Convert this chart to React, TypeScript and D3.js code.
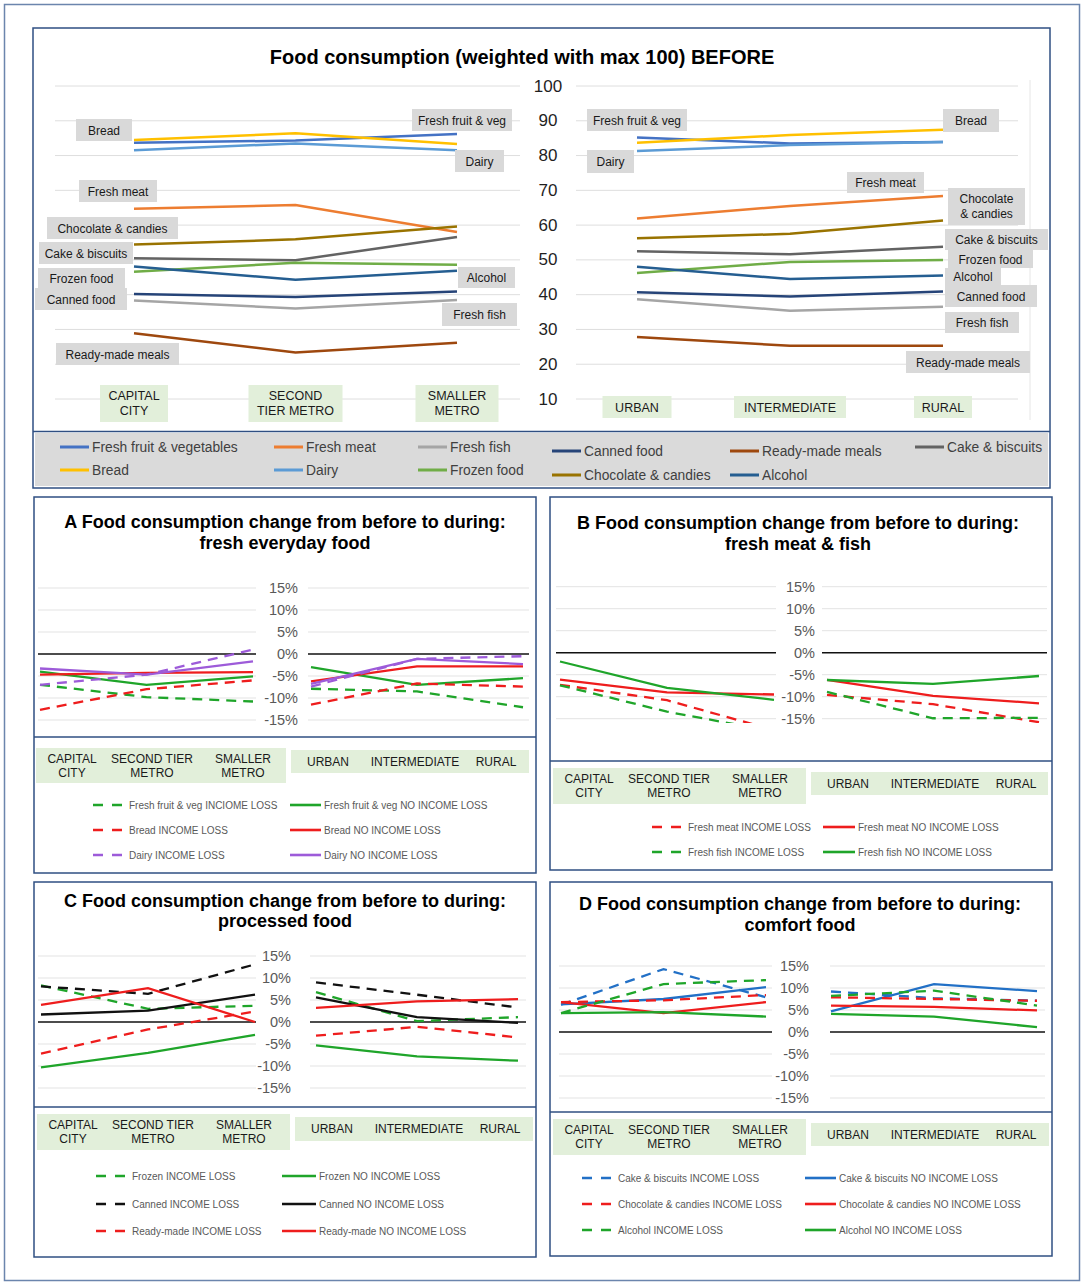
import React, { useEffect, useRef } from "react";
import * as d3 from "d3";

const FONT = "'Liberation Sans', Arial, sans-serif";

// ---- top chart data (weighted with max 100) ----
const metroCats = ["CAPITAL CITY", "SECOND TIER METRO", "SMALLER METRO"];
const areaCats = ["URBAN", "INTERMEDIATE", "RURAL"];
const topMetroLabels = [["CAPITAL", "CITY"], ["SECOND", "TIER METRO"], ["SMALLER", "METRO"]];
const panelMetroLabels = [["CAPITAL", "CITY"], ["SECOND TIER", "METRO"], ["SMALLER", "METRO"]];
const yTicksTop = [100, 90, 80, 70, 60, 50, 40, 30, 20, 10];

const foodSeries = [
  "Fresh fruit & vegetables", "Fresh meat", "Fresh fish", "Canned food", "Ready-made meals", "Cake & biscuits",
  "Bread", "Dairy", "Frozen food", "Chocolate & candies", "Alcohol",
];
const metroBefore = [
  [83.7, 84.3, 86.2],
  [64.7, 65.8, 58.0],
  [38.3, 36.0, 38.5],
  [40.2, 39.3, 40.9],
  [28.9, 23.4, 26.2],
  [50.5, 49.9, 56.6],
  [84.5, 86.4, 83.3],
  [81.5, 83.5, 81.5],
  [46.6, 49.2, 48.6],
  [54.4, 55.9, 59.6],
  [48.1, 44.3, 46.9],
];
const areaBefore = [
  [85.2, 83.5, 83.9],
  [61.9, 65.5, 68.4],
  [38.7, 35.4, 36.5],
  [40.7, 39.5, 40.9],
  [27.8, 25.3, 25.3],
  [52.5, 51.6, 53.8],
  [83.7, 85.9, 87.4],
  [81.3, 83.0, 83.9],
  [46.2, 49.4, 50.0],
  [56.2, 57.5, 61.3],
  [48.0, 44.5, 45.5],
];
const foodColors = [
  "#4472C4", "#ED7D31", "#A5A5A5", "#264478", "#9E480E", "#636363",
  "#FFC000", "#5B9BD5", "#70AD47", "#997300", "#255E91",
];

// ---- change panels (percent) ----
const yTicksPct = [15, 10, 5, 0, -5, -10, -15];

const seriesA = [
  "Fresh fruit & veg INCIOME LOSS", "Fresh fruit & veg NO INCOME LOSS",
  "Bread INCOME LOSS", "Bread NO INCOME LOSS",
  "Dairy INCOME LOSS", "Dairy NO INCOME LOSS",
];
const metroA = [
  [-7.0, -9.8, -10.8],
  [-4.0, -7.0, -5.1],
  [-12.7, -8.0, -6.0],
  [-4.7, -4.3, -4.1],
  [-7.0, -4.7, 1.0],
  [-3.3, -4.7, -1.7],
];
const areaA = [
  [-7.9, -8.5, -12.1],
  [-3.0, -7.0, -5.5],
  [-11.5, -6.7, -7.4],
  [-6.2, -2.8, -2.8],
  [-7.4, -1.1, -0.5],
  [-6.8, -1.1, -2.3],
];

const seriesB = [
  "Fresh meat INCOME LOSS", "Fresh meat NO INCOME LOSS",
  "Fresh fish INCOME LOSS", "Fresh fish NO INCOME LOSS",
];
const metroB = [
  [-7.3, -10.8, -17.6],
  [-6.1, -9.0, -9.5],
  [-7.4, -13.4, -17.9],
  [-2.0, -8.0, -10.7],
];
const areaB = [
  [-9.6, -11.7, -15.8],
  [-6.2, -9.8, -11.5],
  [-8.9, -14.9, -14.8],
  [-6.2, -7.1, -5.3],
];

const seriesC = [
  "Frozen INCOME LOSS", "Frozen NO INCOME LOSS",
  "Canned INCOME LOSS", "Canned NO INCOME LOSS",
  "Ready-made INCOME LOSS", "Ready-made NO INCOME LOSS",
];
const metroC = [
  [8.3, 3.0, 3.7],
  [-10.3, -7.0, -2.9],
  [8.1, 6.4, 13.1],
  [1.7, 2.6, 6.2],
  [-7.2, -1.7, 2.4],
  [3.9, 7.7, 0.0],
];
const areaC = [
  [6.8, 0.2, 1.1],
  [-5.3, -7.8, -8.8],
  [9.0, 6.2, 3.3],
  [5.6, 1.1, -0.2],
  [-3.1, -1.1, -3.5],
  [3.2, 4.7, 5.2],
];

const seriesD = [
  "Cake & biscuits INCOME LOSS", "Cake & biscuits NO INCOME LOSS",
  "Chocolate & candies INCOME LOSS", "Chocolate & candies NO INCOME LOSS",
  "Alcohol INCOME LOSS", "Alcohol NO INCOME LOSS",
];
const metroD = [
  [6.2, 14.3, 7.9],
  [6.3, 7.5, 10.2],
  [6.8, 7.2, 8.4],
  [6.8, 4.3, 6.8],
  [4.3, 10.9, 11.8],
  [4.3, 4.5, 3.5],
];
const areaD = [
  [9.2, 7.7, 7.1],
  [4.7, 10.9, 9.3],
  [7.9, 7.5, 7.1],
  [6.0, 5.7, 4.9],
  [8.2, 9.4, 6.0],
  [4.1, 3.5, 1.1],
];

const GREEN = "#1FA52A";
const RED = "#EE1D1D";
const PURPLE = "#9D5BD9";
const BLACK = "#111111";
const BLUE = "#2270C6";
const FRAME = "#2F4F82";

type Box = { x: number; y: number; w: number; h: number };
type Sel = d3.Selection<any, unknown, null, undefined>;

interface PanelCfg {
  id: string;
  box: Box;
  title: string[];
  titleX: number;
  titleY: number[];
  zeroY: number;
  left: [number, number];
  right: [number, number];
  leftLine: [number, number];
  rightLine: [number, number];
  tickX: number;
  sepY: number;
  catLeft: Box;
  catRight: Box;
  legendRows: number[];
  legendLeft: number;
  legendRight: number;
  legendRightW: number;
  series: string[];
  metro: number[][];
  area: number[][];
  colors: string[];
  dashed: boolean[];
}

const panels: PanelCfg[] = [
  {
    id: "A",
    box: { x: 34, y: 497, w: 502, h: 376 },
    title: ["A Food consumption change from before to during:", "fresh everyday food"],
    titleX: 285, titleY: [522, 543],
    zeroY: 654,
    left: [40, 253], right: [311, 523],
    leftLine: [38, 256], rightLine: [308, 529],
    tickX: 298, sepY: 737,
    catLeft: { x: 36, y: 748, w: 250, h: 35 },
    catRight: { x: 291, y: 750, w: 238, h: 23 },
    legendRows: [805, 830, 855], legendLeft: 93, legendRight: 290, legendRightW: 31,
    series: seriesA, metro: metroA, area: areaA,
    colors: [GREEN, GREEN, RED, RED, PURPLE, PURPLE],
    dashed: [true, false, true, false, true, false],
  },
  {
    id: "B",
    box: { x: 550, y: 497, w: 502, h: 373 },
    title: ["B Food consumption change from before to during:", "fresh meat & fish"],
    titleX: 798, titleY: [523, 544],
    zeroY: 652.7,
    left: [560, 774], right: [827, 1039],
    leftLine: [556, 776], rightLine: [822, 1047],
    tickX: 815, sepY: 761,
    catLeft: { x: 553, y: 768, w: 253, h: 36 },
    catRight: { x: 811, y: 772, w: 237, h: 23 },
    legendRows: [827, 852], legendLeft: 652, legendRight: 823, legendRightW: 32,
    series: seriesB, metro: metroB, area: areaB,
    colors: [RED, RED, GREEN, GREEN],
    dashed: [true, false, true, false],
  },
  {
    id: "C",
    box: { x: 34, y: 882, w: 502, h: 375 },
    title: ["C Food consumption change from before to during:", "processed food"],
    titleX: 285, titleY: [901, 921],
    zeroY: 1022,
    left: [41, 255], right: [316, 518],
    leftLine: [38, 256], rightLine: [310, 526],
    tickX: 291, sepY: 1107,
    catLeft: { x: 37, y: 1114, w: 253, h: 36 },
    catRight: { x: 295, y: 1117, w: 238, h: 24 },
    legendRows: [1176, 1204, 1231], legendLeft: 96, legendRight: 282, legendRightW: 34,
    series: seriesC, metro: metroC, area: areaC,
    colors: [GREEN, GREEN, BLACK, BLACK, RED, RED],
    dashed: [true, false, true, false, true, false],
  },
  {
    id: "D",
    box: { x: 550, y: 882, w: 502, h: 374 },
    title: ["D Food consumption change from before to during:", "comfort food"],
    titleX: 800, titleY: [904, 925],
    zeroY: 1032,
    left: [561, 766], right: [831, 1037],
    leftLine: [559, 772], rightLine: [830, 1045],
    tickX: 809, sepY: 1112,
    catLeft: { x: 553, y: 1119, w: 253, h: 36 },
    catRight: { x: 811, y: 1123, w: 238, h: 23 },
    legendRows: [1178, 1204, 1230], legendLeft: 582, legendRight: 805, legendRightW: 31,
    series: seriesD, metro: metroD, area: areaD,
    colors: [BLUE, BLUE, RED, RED, GREEN, GREEN],
    dashed: [true, false, true, false, true, false],
  },
];

// annotation boxes of the top chart (layout only)
const topNotesLeft = [
  { t: ["Bread"], x: 76, y: 119, w: 56, h: 22 },
  { t: ["Fresh fruit & veg"], x: 412, y: 109, w: 100, h: 22 },
  { t: ["Dairy"], x: 455, y: 150, w: 49, h: 22 },
  { t: ["Fresh meat"], x: 79, y: 180, w: 78, h: 22 },
  { t: ["Chocolate & candies"], x: 47, y: 217, w: 131, h: 22 },
  { t: ["Cake & biscuits"], x: 39, y: 242, w: 94, h: 22 },
  { t: ["Frozen food"], x: 38, y: 268, w: 87, h: 20 },
  { t: ["Canned food"], x: 35, y: 288, w: 92, h: 22 },
  { t: ["Alcohol"], x: 458, y: 267, w: 57, h: 21 },
  { t: ["Fresh fish"], x: 442, y: 303, w: 75, h: 23 },
  { t: ["Ready-made meals"], x: 56, y: 343, w: 123, h: 22 },
];
const topNotesRight = [
  { t: ["Fresh fruit & veg"], x: 587, y: 109, w: 100, h: 22 },
  { t: ["Dairy"], x: 587, y: 150, w: 47, h: 23 },
  { t: ["Bread"], x: 943, y: 109, w: 56, h: 23 },
  { t: ["Fresh meat"], x: 847, y: 172, w: 77, h: 21 },
  { t: ["Chocolate", "& candies"], x: 948, y: 188, w: 77, h: 37 },
  { t: ["Cake & biscuits"], x: 945, y: 229, w: 103, h: 21 },
  { t: ["Frozen food"], x: 948, y: 250, w: 85, h: 18 },
  { t: ["Alcohol"], x: 945, y: 268, w: 56, h: 17 },
  { t: ["Canned food"], x: 945, y: 285, w: 92, h: 22 },
  { t: ["Fresh fish"], x: 945, y: 312, w: 74, h: 21 },
  { t: ["Ready-made meals"], x: 906, y: 351, w: 124, h: 22 },
];

function txt(g: Sel, x: number, y: number, s: string, size: number, opts: any = {}) {
  return g.append("text")
    .attr("x", x).attr("y", y)
    .attr("font-family", FONT)
    .attr("font-size", size)
    .attr("font-weight", opts.bold ? "bold" : "normal")
    .attr("fill", opts.fill || "#1a1a1a")
    .attr("text-anchor", opts.anchor || "middle")
    .attr("dominant-baseline", "central")
    .text(s);
}

function drawTop(svg: Sel) {
  const g = svg.append("g");
  g.append("rect").attr("x", 33).attr("y", 28).attr("width", 1017).attr("height", 460)
    .attr("fill", "#fff").attr("stroke", FRAME).attr("stroke-width", 1.5);
  g.append("rect").attr("x", 35).attr("y", 433).attr("width", 1013).attr("height", 53).attr("fill", "#DADADA");
  g.append("line").attr("x1", 33).attr("x2", 1050).attr("y1", 431.5).attr("y2", 431.5)
    .attr("stroke", FRAME).attr("stroke-width", 1.5);

  txt(g, 522, 57, "Food consumption (weighted with max 100) BEFORE", 20, { bold: true, fill: "#000" });

  const y = d3.scaleLinear().domain([10, 100]).range([399, 86]);
  const xL = d3.scalePoint<string>().domain(metroCats).range([134, 457]);
  const xR = d3.scalePoint<string>().domain(areaCats).range([637, 943]);

  yTicksTop.forEach((t) => {
    g.append("line").attr("x1", 55).attr("x2", 520).attr("y1", y(t)).attr("y2", y(t))
      .attr("stroke", "#DEDEDE").attr("stroke-width", 1);
    g.append("line").attr("x1", 576).attr("x2", 1018).attr("y1", y(t)).attr("y2", y(t))
      .attr("stroke", "#DEDEDE").attr("stroke-width", 1);
    txt(g, 548, y(t), String(t), 17, { fill: "#1f1f1f" });
  });
  g.append("line").attr("x1", 1030).attr("x2", 1030).attr("y1", 80).attr("y2", 420)
    .attr("stroke", "#E6E6E6");

  const lineL = d3.line<number>().x((_, i) => xL(metroCats[i]) as number).y((d) => y(d));
  const lineR = d3.line<number>().x((_, i) => xR(areaCats[i]) as number).y((d) => y(d));

  foodSeries.forEach((_, i) => {
    g.append("path").attr("d", lineL(metroBefore[i]) || "").attr("fill", "none")
      .attr("stroke", foodColors[i]).attr("stroke-width", 2.5);
    g.append("path").attr("d", lineR(areaBefore[i]) || "").attr("fill", "none")
      .attr("stroke", foodColors[i]).attr("stroke-width", 2.5);
  });

  [...topNotesLeft, ...topNotesRight].forEach((n) => {
    g.append("rect").attr("x", n.x).attr("y", n.y).attr("width", n.w).attr("height", n.h).attr("fill", "#D9D9D9");
    const cy = n.y + n.h / 2;
    if (n.t.length === 1) txt(g, n.x + n.w / 2, cy + 0.5, n.t[0], 12, { fill: "#1a1a1a" });
    else n.t.forEach((s, k) => txt(g, n.x + n.w / 2, cy + (k - 0.5) * 14.5, s, 12, { fill: "#1a1a1a" }));
  });

  const wL = [68, 94, 83];
  metroCats.forEach((c, i) => {
    const cx = xL(c) as number;
    g.append("rect").attr("x", cx - wL[i] / 2).attr("y", 385).attr("width", wL[i]).attr("height", 37).attr("fill", "#E2EFDA");
    topMetroLabels[i].forEach((s, k) => txt(g, cx, 396 + k * 15, s, 12.5, { fill: "#1a1a1a" }));
  });
  const wR = [69, 112, 58];
  areaCats.forEach((c, i) => {
    const cx = xR(c) as number;
    g.append("rect").attr("x", cx - wR[i] / 2).attr("y", 396).attr("width", wR[i]).attr("height", 22).attr("fill", "#E2EFDA");
    txt(g, cx, 407.5, c, 12.5, { fill: "#1a1a1a" });
  });

  // legend
  const colX = [60, 274, 418, 552, 730, 915];
  foodSeries.forEach((name, i) => {
    const row = i < 6 ? 0 : 1;
    const col = i < 6 ? i : i - 6;
    const ly = row === 0 ? (col >= 3 && col <= 4 ? 451 : 447) : (col >= 3 ? 475 : 470);
    g.append("line").attr("x1", colX[col]).attr("x2", colX[col] + 29).attr("y1", ly).attr("y2", ly)
      .attr("stroke", foodColors[i]).attr("stroke-width", 3);
    txt(g, colX[col] + 32, ly, name, 13.8, { anchor: "start", fill: "#404040" });
  });
}

function drawPanel(svg: Sel, p: PanelCfg) {
  const g = svg.append("g");
  const b = p.box;
  g.append("rect").attr("x", b.x).attr("y", b.y).attr("width", b.w).attr("height", b.h)
    .attr("fill", "#fff").attr("stroke", FRAME).attr("stroke-width", 1.5);
  g.append("line").attr("x1", b.x).attr("x2", b.x + b.w).attr("y1", p.sepY).attr("y2", p.sepY)
    .attr("stroke", FRAME).attr("stroke-width", 1.5);

  p.title.forEach((s, k) => txt(g, p.titleX, p.titleY[k], s, 18, { bold: true, fill: "#000" }));

  const y = d3.scaleLinear().domain([-15, 15]).range([p.zeroY + 66, p.zeroY - 66]);
  const xL = d3.scalePoint<string>().domain(metroCats).range(p.left);
  const xR = d3.scalePoint<string>().domain(areaCats).range(p.right);

  yTicksPct.forEach((t) => {
    if (t !== 0) {
      [p.leftLine, p.rightLine].forEach((r) => {
        g.append("line").attr("x1", r[0]).attr("x2", r[1]).attr("y1", y(t)).attr("y2", y(t))
          .attr("stroke", "#E3E3E3").attr("stroke-width", 1);
      });
    }
    txt(g, p.tickX, y(t), `${t}%`, 14.5, { anchor: "end", fill: "#595959" });
  });
  [p.leftLine, p.rightLine].forEach((r) => {
    g.append("line").attr("x1", r[0]).attr("x2", r[1]).attr("y1", y(0)).attr("y2", y(0))
      .attr("stroke", "#111").attr("stroke-width", 1.5);
  });

  const clipId = `clip-${p.id}`;
  svg.append("clipPath").attr("id", clipId).append("rect")
    .attr("x", b.x).attr("y", y(20)).attr("width", b.w).attr("height", y(-16) - y(20));
  const lines = g.append("g").attr("clip-path", `url(#${clipId})`);

  const lineL = d3.line<number>().x((_, i) => xL(metroCats[i]) as number).y((d) => y(d));
  const lineR = d3.line<number>().x((_, i) => xR(areaCats[i]) as number).y((d) => y(d));
  p.series.forEach((_, i) => {
    [lineL(p.metro[i]), lineR(p.area[i])].forEach((d) => {
      lines.append("path").attr("d", d || "").attr("fill", "none")
        .attr("stroke", p.colors[i]).attr("stroke-width", 2.3)
        .attr("stroke-dasharray", p.dashed[i] ? "10,7" : null);
    });
  });

  // category boxes
  const cl = p.catLeft;
  g.append("rect").attr("x", cl.x).attr("y", cl.y).attr("width", cl.w).attr("height", cl.h).attr("fill", "#E2EFDA");
  const offL = [36, 116, 207];
  panelMetroLabels.forEach((lines2, i) => {
    lines2.forEach((s, k) => txt(g, cl.x + offL[i], cl.y + 10.5 + k * 14, s, 12, { fill: "#1a1a1a" }));
  });
  const cr = p.catRight;
  g.append("rect").attr("x", cr.x).attr("y", cr.y).attr("width", cr.w).attr("height", cr.h).attr("fill", "#E2EFDA");
  const offR = [37, 124, 205];
  areaCats.forEach((c, i) => txt(g, cr.x + offR[i], cr.y + cr.h / 2, c, 12, { fill: "#1a1a1a" }));

  // legend
  p.series.forEach((name, i) => {
    const row = Math.floor(i / 2);
    const ly = p.legendRows[row];
    const isLeft = i % 2 === 0;
    const x1 = isLeft ? p.legendLeft : p.legendRight;
    const w = isLeft ? 30 : p.legendRightW;
    g.append("line").attr("x1", x1).attr("x2", x1 + w).attr("y1", ly).attr("y2", ly)
      .attr("stroke", p.colors[i]).attr("stroke-width", 2.6)
      .attr("stroke-dasharray", p.dashed[i] ? "10,9" : null);
    txt(g, x1 + w + (isLeft ? 6 : 3), ly, name, 10, { anchor: "start", fill: "#595959" });
  });
}

const App: React.FC = () => {
  const ref = useRef<SVGSVGElement>(null);

  useEffect(() => {
    const svg = d3.select(ref.current) as unknown as Sel;
    svg.selectAll("*").remove();
    svg.append("rect").attr("width", 1084).attr("height", 1285).attr("fill", "#fff");
    svg.append("rect").attr("x", 4.5).attr("y", 4.5).attr("width", 1075).attr("height", 1276)
      .attr("fill", "none").attr("stroke", "#6B85AD").attr("stroke-width", 1.5);
    drawTop(svg);
    panels.forEach((p) => drawPanel(svg, p));
  }, []);

  return (
    <svg
      ref={ref}
      width={1084}
      height={1285}
      style={{ position: "absolute", left: 0, top: 0, display: "block" }}
    />
  );
};

export default App;
